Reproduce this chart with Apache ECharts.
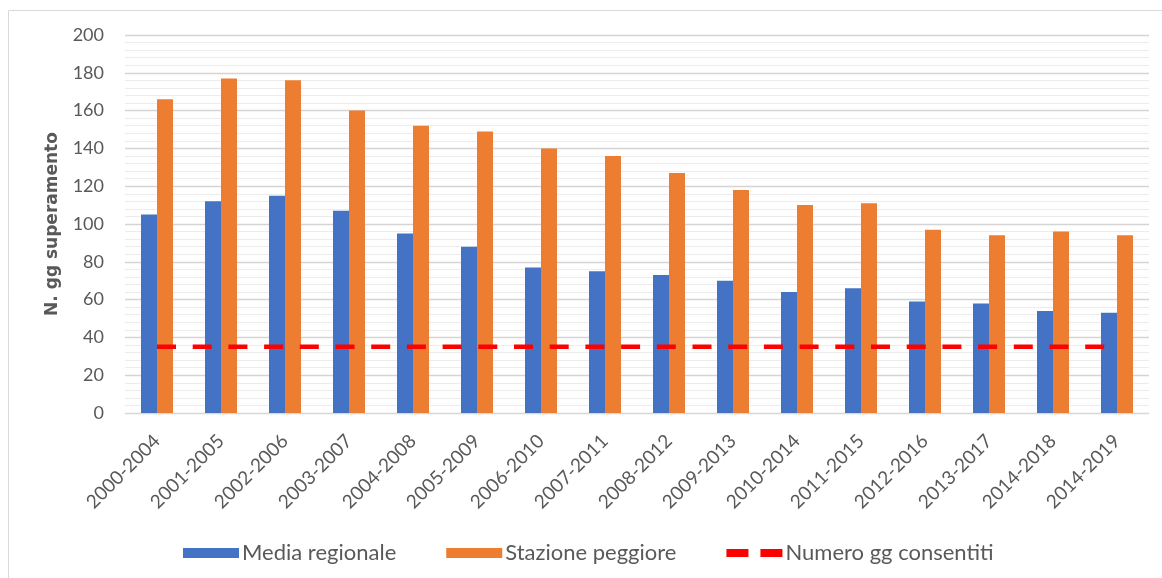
<!DOCTYPE html>
<html>
<head>
<meta charset="utf-8">
<script src="https://cdn.jsdelivr.net/npm/echarts@6/dist/echarts.min.js"></script>
<style>html,body{margin:0;padding:0;background:#fff;}#c{width:1162px;height:578px;}</style>
</head>
<body>
<div id="c"></div>
<script>
const categories = ['2000-2004','2001-2005','2002-2006','2003-2007','2004-2008','2005-2009','2006-2010','2007-2011','2008-2012','2009-2013','2010-2014','2011-2015','2012-2016','2013-2017','2014-2018','2014-2019'];
const mediaRegionale = [105,112,115,107,95,88,77,75,73,70,64,66,59,58,54,53];
const stazionePeggiore = [166,177,176,160,152,149,140,136,127,118,110,111,97,94,96,94];
const numeroGgConsentiti = categories.map(() => 35);
const yTicks = [0,20,40,60,80,100,120,140,160,180,200];

const font = 'Lato, "Open Sans", sans-serif';
const chart = echarts.init(document.getElementById('c'), null, {renderer:'canvas'});
chart.setOption({
  animation: false,
  backgroundColor: '#fff',
  textStyle: {fontFamily: font},
  graphic: [{type:'rect', shape:{x:8.5,y:10.5,width:1200,height:600}, style:{fill:'none', stroke:'#d9d9d9', lineWidth:1}, silent:true}],
  grid: {left:125, right:13, top:35, bottom:165},
  legend: {
    top: 537, left: 178,
    itemWidth: 56, itemHeight: 10, itemGap: 50,
    textStyle: {fontSize: 22, color:'#595959', fontFamily: font, padding:[0,0,0,-2]},
    data: [
      {name:'Media regionale', icon:'rect'},
      {name:'Stazione peggiore', icon:'rect'},
      {name:'Numero gg consentiti', icon:'path://M0,0h22v8h-22z M34,0h22v8h-22z', itemStyle:{color:'#FF0000'}}
    ]
  },
  xAxis: {
    type:'category', data: categories,
    axisLine:{lineStyle:{color:'#d9d9d9'}},
    axisTick:{show:false},
    axisLabel:{rotate:45, color:'#595959', fontSize:19, margin:25, fontFamily: font}
  },
  yAxis: {
    type:'value', min: yTicks[0], max: yTicks[yTicks.length-1], interval: 20,
    name:'N. gg superamento', nameLocation:'middle', nameGap:64,
    nameTextStyle:{fontSize:17, fontWeight:'bold', color:'#595959', fontFamily:'"DejaVu Sans", sans-serif'},
    axisLabel:{color:'#595959', fontSize:18, margin:21, fontFamily: font},
    axisLine:{show:false}, axisTick:{show:false},
    splitLine:{lineStyle:{color:'#d4d4d4', width:1.3}},
    minorTick:{show:false, splitNumber:5},
    minorSplitLine:{show:true, lineStyle:{color:'#ececec', width:1}}
  },
  series: [
    {name:'Media regionale', type:'bar', data: mediaRegionale, barWidth:16, barGap:'0%', itemStyle:{color:'#4472C4'}},
    {name:'Stazione peggiore', type:'bar', data: stazionePeggiore, barWidth:16, barGap:'0%', itemStyle:{color:'#ED7D31'}},
    {name:'Numero gg consentiti', type:'line', data: numeroGgConsentiti, symbol:'none', z:5,
     itemStyle:{color:'#FF0000'},
     lineStyle:{color:'#FF0000', width:4.5, type:[19,16.7]}}
  ]
});
</script>
</body>
</html>
